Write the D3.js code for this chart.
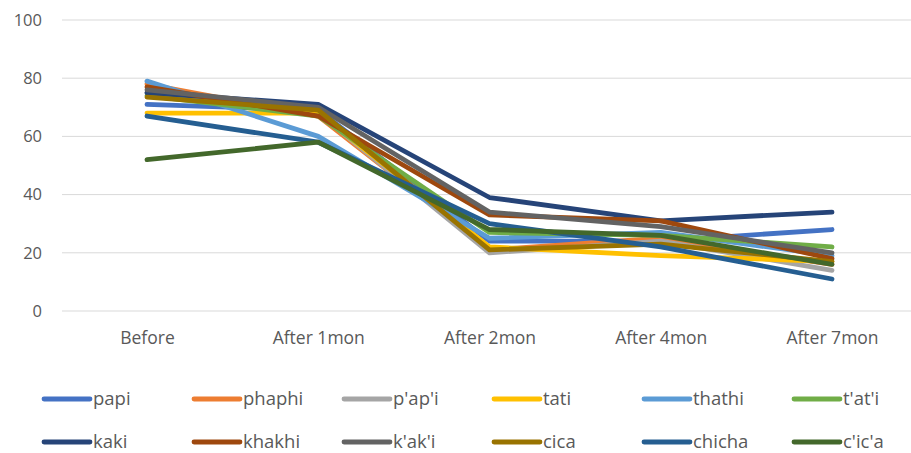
<!DOCTYPE html>
<html><head><meta charset="utf-8">
<script src="https://cdn.jsdelivr.net/npm/d3@7/dist/d3.min.js"></script>
<style>body{margin:0;background:#fff;}svg{display:block;}</style>
</head><body><svg id="c" width="911" height="453"></svg>
<script>
const categories = ["Before","After 1mon","After 2mon","After 4mon","After 7mon"];
const yTicks = [0,20,40,60,80,100];
const seriesNames = ["papi","phaphi","p'ap'i","tati","thathi","t'at'i","kaki","khakhi","k'ak'i","cica","chicha","c'ic'a"];
const papi   = [71,69,24,24,28];
const phaphi = [78,67,21,25,16];
const papi2  = [75,68,20,24,14];
const tati   = [68,68,22,19,17];
const thathi = [79,60,25,27,19];
const tati2  = [74,67,27,26,22];
const kaki   = [75,71,39,31,34];
const khakhi = [77,67,33,31,18];
const kaki2  = [76,70,34,29,20];
const cica   = [73.5,69,21,23,17];
const chicha = [67,58,30,22,11];
const cica2  = [52,58,28,26,16];
const seriesValues = [papi,phaphi,papi2,tati,thathi,tati2,kaki,khakhi,kaki2,cica,chicha,cica2];
const colors = ["#4472C4","#ED7D31","#A5A5A5","#FFC000","#5B9BD5","#70AD47","#264478","#9E480E","#636363","#997300","#255E91","#43682B"];

const svg = d3.select("#c");
const font = "'Open Sans','Noto Sans',sans-serif";
const x = d3.scalePoint().domain(categories).range([147,832]);
const y = d3.scaleLinear().domain([0,100]).range([311,20]);

const grid = svg.append("g");
grid.selectAll("line").data(yTicks).join("line")
  .attr("x1",62).attr("x2",911)
  .attr("y1",d=>y(d)).attr("y2",d=>y(d))
  .attr("stroke","#d9d9d9").attr("stroke-width",1);

const yAxis = svg.append("g").attr("transform","translate(62,0)")
  .call(d3.axisLeft(y).tickValues(yTicks).tickSize(0).tickPadding(20));
yAxis.select(".domain").remove();
yAxis.selectAll("text").attr("font-family",font).attr("font-size",16.5).attr("fill","#595959");

const xAxis = svg.append("g").attr("transform","translate(0,311)")
  .call(d3.axisBottom(x).tickSize(0).tickPadding(21));
xAxis.select(".domain").remove();
xAxis.selectAll("text").attr("font-family",font).attr("font-size",17.5).attr("fill","#595959");

const line = d3.line().x((d,i)=>x(categories[i])).y(d=>y(d));
svg.append("g").selectAll("path").data(seriesValues).join("path")
  .attr("d",line).attr("fill","none")
  .attr("stroke",(d,i)=>colors[i]).attr("stroke-width",4.8)
  .attr("stroke-linecap","round").attr("stroke-linejoin","round");

const leg = svg.append("g");
const items = leg.selectAll("g").data(seriesNames).join("g")
  .attr("transform",(d,i)=>`translate(${44+(i%6)*150},${i<6?399:442})`);
items.append("line").attr("x1",0).attr("x2",46).attr("y1",0).attr("y2",0)
  .attr("stroke",(d,i)=>colors[i]).attr("stroke-width",4.8).attr("stroke-linecap","round");
items.append("text").attr("x",49).attr("y",0).attr("dy","0.35em")
  .attr("font-family",font).attr("font-size",18.5).attr("fill","#595959").text(d=>d);
</script></body></html>
